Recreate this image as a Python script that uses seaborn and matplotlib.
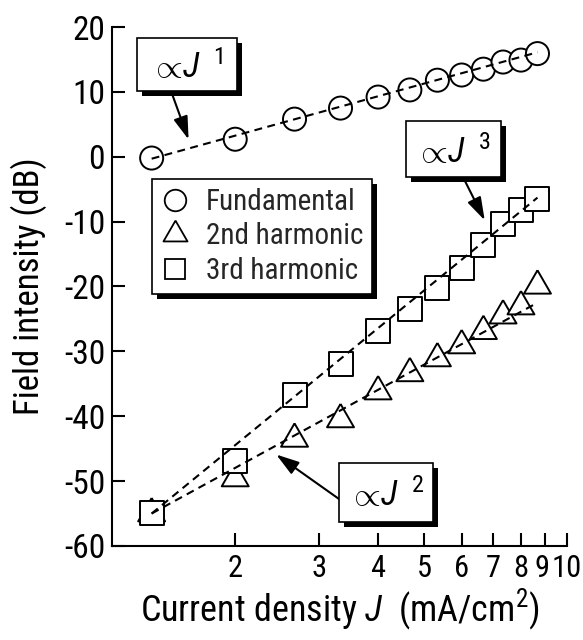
import numpy as np
import pandas as pd
import matplotlib
matplotlib.use("Agg")
import matplotlib.pyplot as plt
import matplotlib.transforms as mtransforms
import seaborn as sns
from matplotlib import font_manager, patheffects
from matplotlib.patches import Rectangle
from matplotlib.lines import Line2D
from matplotlib.ticker import NullLocator

# ---------------- data ----------------
current = [4/3, 2, 8/3, 10/3, 4, 14/3, 16/3, 6, 20/3, 22/3, 8, 26/3]
fundamental = [-0.2, 2.7, 5.8, 7.5, 9.2, 10.3, 11.8, 12.6, 13.5, 14.6, 14.9, 15.9]
second_harm = [-55.0, -49.6, -43.5, -40.5, -36.2, -33.4, -31.1, -29.1, -26.9, -24.5, -23.1, -19.9]
third_harm = [-54.9, -46.9, -36.8, -31.9, -26.9, -23.4, -20.2, -17.1, -13.6, -10.4, -8.2, -6.5]

fit_current = [4/3, 26/3]
fit_fundamental = [-0.3, 16.1]
fit_second = [-55.0, -22.5]
fit_third = [-55.0, -6.3]

series_names = ["Fundamental", "2nd harmonic", "3rd harmonic"]
xtick_values = [2, 3, 4, 5, 6, 7, 8, 9, 10]
xtick_labels = ["2", "3", "4", "5", "6", "7", "8", "9", "10"]
ytick_values = [-60, -50, -40, -30, -20, -10, 0, 10, 20]
ytick_labels = ["-60", "-50", "-40", "-30", "-20", "-10", "0", "10", "20"]

# ---------------- style ----------------
sns.set_theme(style="ticks")
avail = {f.name for f in font_manager.fontManager.ttflist}
FONT = next(f for f in ["Liberation Sans Narrow", "Arial Narrow", "Roboto Condensed",
                        "Archivo Narrow", "PT Sans Narrow", "Liberation Sans", "DejaVu Sans"]
            if f in avail)
plt.rcParams["font.family"] = [FONT, "DejaVu Sans"]
plt.rcParams["axes.unicode_minus"] = False
plt.rcParams["mathtext.fontset"] = "custom"
plt.rcParams["mathtext.rm"] = FONT
plt.rcParams["mathtext.it"] = FONT + ":italic"

df = pd.DataFrame({
    "J": current * 3,
    "dB": fundamental + second_harm + third_harm,
    "series": [series_names[0]] * len(current) + [series_names[1]] * len(current) + [series_names[2]] * len(current),
})
fit_df = pd.DataFrame({
    "J": fit_current * 3,
    "dB": fit_fundamental + fit_second + fit_third,
    "series": [s for s in series_names for _ in fit_current],
})

tri = [(0, 1), (-0.866, -0.5), (0.866, -0.5), (0, 1)]
markers = {series_names[0]: "o", series_names[1]: tri, series_names[2]: "s"}
sizes = {series_names[0]: 16.6 ** 2, series_names[1]: 22.4 ** 2, series_names[2]: 17.3 ** 2}

fig = plt.figure(figsize=(5.83, 6.40), dpi=100)
ax = fig.add_axes([0.1921, 0.1469, 0.7804, 0.8109])

sns.scatterplot(data=df, x="J", y="dB", style="series", markers=markers,
                size="series", sizes=sizes, color="white", edgecolor="black",
                linewidth=1.4, legend=False, ax=ax, zorder=2)
sns.lineplot(data=fit_df, x="J", y="dB", style="series",
             dashes={s: (3.8, 2.6) for s in series_names}, color="black",
             linewidth=1.5, estimator=None, legend=False, ax=ax, zorder=3)

ax.set_xscale("log")
ax.set_xlim(1.1, 10)
ax.set_ylim(-60, 20)
ax.set_xticks(xtick_values, xtick_labels)
ax.xaxis.set_minor_locator(NullLocator())
ax.set_yticks(ytick_values, ytick_labels)
ax.tick_params(direction="in", length=9.4, width=1.5, labelsize=24, colors="black")
ax.tick_params(axis="x", labelsize=22, pad=6)
ax.tick_params(axis="y", pad=5)
for s in ["top", "right"]:
    ax.spines[s].set_visible(False)
for s in ["left", "bottom"]:
    ax.spines[s].set_linewidth(1.5)
    ax.spines[s].set_color("black")

# nudge the crowded "9" label left slightly
xt = ax.get_xticklabels()
xt[-2].set_transform(xt[-2].get_transform() + mtransforms.ScaledTranslation(-2.5 / 72, 0, fig.dpi_scale_trans))

ax.set_xlabel(r"Current density $J$  (mA/cm$^2$)", fontsize=26, labelpad=2, color="black")
ax.set_ylabel("Field intensity (dB)", fontsize=25, labelpad=12, color="black")

shadow = [patheffects.SimplePatchShadow(offset=(3.6, -3.6), shadow_rgbFace="black", alpha=1.0),
          patheffects.Normal()]

# legend
handles = [
    Line2D([], [], ls="none", marker="o", ms=15.5, mfc="white", mec="black", mew=1.3),
    Line2D([], [], ls="none", marker=tri, ms=20, mfc="white", mec="black", mew=1.3),
    Line2D([], [], ls="none", marker="s", ms=14.5, mfc="white", mec="black", mew=1.3),
]
leg = ax.legend(handles, series_names, loc="upper left", bbox_to_anchor=(0.0873, 0.7066),
                borderaxespad=0, fancybox=False, framealpha=1, edgecolor="black",
                fontsize=21, handlelength=1.0, handletextpad=0.55, labelspacing=0.22,
                borderpad=0.3)
leg.get_frame().set_linewidth(1.2)
leg.get_frame().set_path_effects(shadow)
leg.set_zorder(6)


def power_box(x0, y0, w, h, power, start, tip):
    ax.annotate("", xy=tip, xycoords="data", xytext=start, textcoords="axes fraction",
                arrowprops=dict(arrowstyle="-|>,head_length=0.7,head_width=0.22",
                                mutation_scale=20, color="black", lw=1.5,
                                shrinkA=0, shrinkB=0), zorder=4)
    rect = Rectangle((x0, y0), w, h, transform=ax.transAxes, fc="white", ec="black",
                     lw=1.2, zorder=5, clip_on=False)
    rect.set_path_effects(shadow)
    ax.add_patch(rect)
    ax.text(x0 + 0.5 * w, y0 + 0.45 * h, r"$\propto\! J^{\ \ \mathit{%s}}$" % power,
            transform=ax.transAxes, fontsize=25, ha="center", va="center",
            zorder=6, color="black")


power_box(0.0549, 0.8767, 0.2198, 0.1021, "1", (0.1297, 0.8767), (1.595, 2.66))
power_box(0.6455, 0.7110, 0.2095, 0.1085, "3", (0.7714, 0.7110), (6.71, -9.8))
power_box(0.4989, 0.0468, 0.2066, 0.1131, "2", (0.4989, 0.0906), (2.44, -45.9))

fig.savefig("out.png", dpi=100)
